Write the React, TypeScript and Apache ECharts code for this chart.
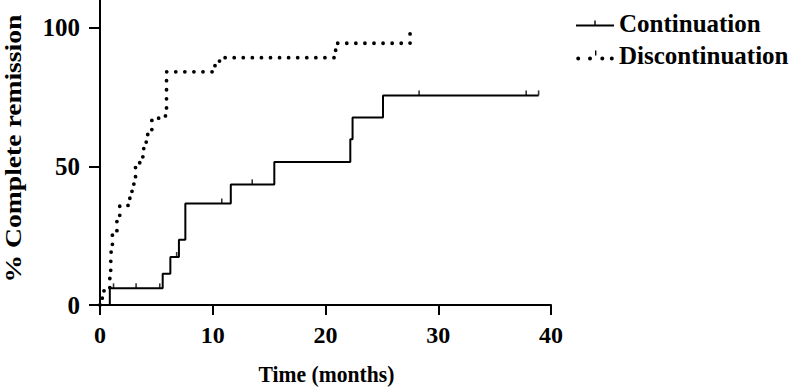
import { useEffect, useRef } from 'react';
import * as echarts from 'echarts';

// ---- data ----
const seriesNames = ['Continuation', 'Discontinuation'];
const xTitle = 'Time (months)';
const yTitle = '% Complete remission';
const xTicks = [0, 10, 20, 30, 40];
const yTicks = [0, 50, 100];

// Kaplan-Meier style step points: [month, % complete remission]
const continuation: [number, number][] = [
  [0, 0], [0.87, 6], [5.56, 11.3], [6.24, 17.3], [7.0, 23.5], [7.57, 36.6],
  [11.6, 43.5], [15.46, 51.6], [22.2, 59.8], [22.4, 67.6], [25.1, 75.6], [38.9, 75.6],
];
const continuationCensored: [number, number][] = [
  [1.2, 6], [3.2, 6], [5.3, 6], [6.8, 17.3], [10.8, 36.6], [13.5, 43.5],
  [28.3, 75.6], [37.8, 75.6], [38.9, 75.6],
];
const discontinuation: [number, number][] = [
  [0, 0], [0.2, 5.1], [0.87, 10.3], [0.95, 15.4], [1.0, 20.5], [1.1, 25.6],
  [1.5, 30.8], [1.75, 35.9], [2.55, 38.5], [2.7, 41], [2.9, 43.6], [3.05, 46.2],
  [3.15, 51.3], [3.8, 56.4], [4.1, 61.5], [4.6, 66.7], [5.2, 68.2], [5.9, 84.1],
  [10.2, 86.5], [10.6, 89.2], [20.9, 94.4], [27.5, 98],
];

const FONT = '"Liberation Serif", "Times New Roman", serif';

const circle = (cx: number, cy: number, r: number) =>
  `M${cx - r},${cy} a${r},${r} 0 1,0 ${2 * r},0 a${r},${r} 0 1,0 ${-2 * r},0 Z`;

const contIcon = 'path://M18.3,0 H19.7 V4 H18.3 Z M0,4 H38 V6 H0 Z';
const discIcon =
  'path://' +
  circle(2.2, 8, 2) + ' ' + circle(14, 8, 2) + ' ' +
  circle(26.3, 8, 2) + ' ' + circle(35.8, 8, 2) +
  ' M19,0 H20.4 V5 H19 Z';

export default function App() {
  const ref = useRef<HTMLDivElement>(null);
  useEffect(() => {
    if (!ref.current) return;
    const chart = echarts.init(ref.current, null, { renderer: 'svg' });
    chart.setOption({
      animation: false,
      grid: { left: 100, right: 249, top: 0, bottom: 82 },
      legend: {
        orient: 'vertical',
        left: 571,
        top: 6,
        itemWidth: 38,
        itemHeight: 10,
        itemGap: 7,
        itemTextGap: 14,
        symbolKeepAspect: true,
        selectedMode: false,
        textStyle: { fontSize: 25, fontWeight: 'bold', fontFamily: FONT, color: '#000' },
        data: [
          { name: seriesNames[0], icon: contIcon },
          { name: seriesNames[1], icon: discIcon },
        ],
      },
      xAxis: {
        type: 'value',
        min: 0,
        max: 40,
        interval: 10,
        splitLine: { show: false },
        axisLine: { show: true, lineStyle: { color: '#000', width: 2 } },
        axisTick: { show: true, length: 10, lineStyle: { color: '#000', width: 2 }, customValues: xTicks },
        axisLabel: {
          customValues: xTicks,
          margin: 18,
          fontSize: 24,
          fontWeight: 'bold',
          fontFamily: FONT,
          color: '#000',
        },
      },
      yAxis: {
        type: 'value',
        min: 0,
        max: 110,
        interval: 50,
        splitLine: { show: false },
        axisLine: { show: true, lineStyle: { color: '#000', width: 2 } },
        axisTick: { show: true, length: 11, lineStyle: { color: '#000', width: 2 }, customValues: yTicks },
        axisLabel: {
          customValues: yTicks,
          margin: 20,
          fontSize: 25,
          fontWeight: 'bold',
          fontFamily: FONT,
          color: '#000',
        },
      },
      graphic: [
        {
          type: 'text',
          x: 326.5,
          y: 374,
          scaleX: 0.9,
          style: {
            text: xTitle,
            fontSize: 24,
            fontWeight: 'bold',
            fontFamily: FONT,
            fill: '#000',
            align: 'center',
            verticalAlign: 'middle',
          },
        },
        {
          type: 'text',
          x: 13,
          y: 148.5,
          rotation: Math.PI / 2,
          scaleX: 1.15,
          style: {
            text: yTitle,
            fontSize: 24,
            fontWeight: 'bold',
            fontFamily: FONT,
            fill: '#000',
            align: 'center',
            verticalAlign: 'middle',
          },
        },
      ],
      series: [
        {
          name: seriesNames[0],
          type: 'line',
          step: 'end',
          data: continuation,
          symbol: 'none',
          color: '#000',
          lineStyle: { color: '#000', width: 2 },
          z: 3,
        },
        {
          name: 'Censored',
          type: 'scatter',
          data: continuationCensored,
          symbol: 'rect',
          symbolSize: [1.6, 5],
          symbolOffset: [0, -2.5],
          itemStyle: { color: '#000' },
          z: 3,
        },
        {
          name: seriesNames[1],
          type: 'line',
          step: 'end',
          data: discontinuation,
          symbol: 'none',
          color: '#000',
          lineStyle: { color: '#000', width: 3.8, type: [0.001, 9.07], cap: 'round', join: 'round' },
          z: 2,
        },
      ],
    });
    return () => chart.dispose();
  }, []);
  return (
    <div
      ref={ref}
      style={{ position: 'absolute', left: 0, top: 0, width: 800, height: 387 }}
    />
  );
}
